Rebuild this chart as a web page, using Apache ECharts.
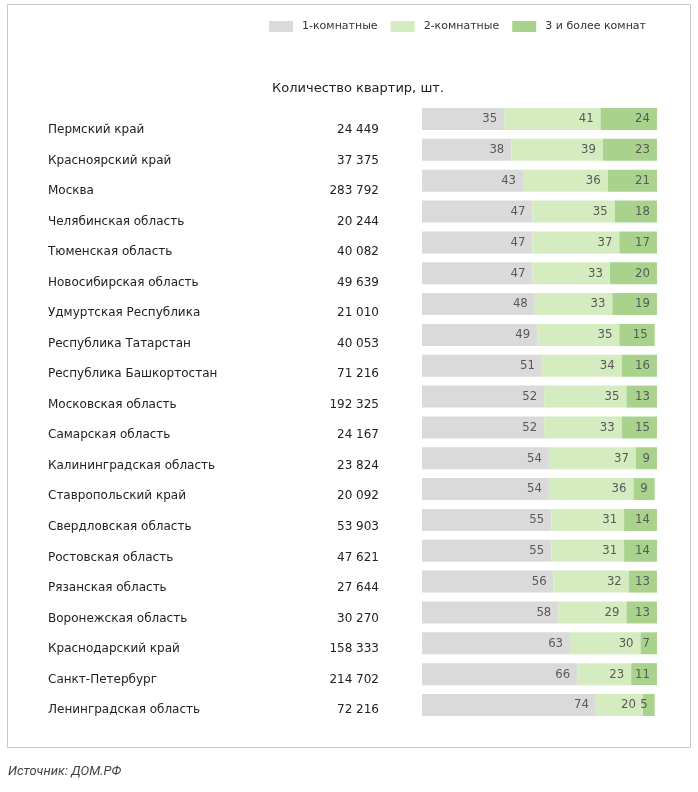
<!DOCTYPE html>
<html>
<head>
<meta charset="utf-8">
<script src="https://cdn.jsdelivr.net/npm/echarts@6/dist/echarts.min.js"></script>
<style>html,body{margin:0;padding:0;background:#fff}#c{width:698px;height:792px}</style>
</head>
<body>
<div id="c"></div>
<script>
const regions = ['Пермский край','Красноярский край','Москва','Челябинская область','Тюменская область','Новосибирская область','Удмуртская Республика','Республика Татарстан','Республика Башкортостан','Московская область','Самарская область','Калининградская область','Ставропольский край','Свердловская область','Ростовская область','Рязанская область','Воронежская область','Краснодарский край','Санкт-Петербург','Ленинградская область'];
const counts = ['24 449','37 375','283 792','20 244','40 082','49 639','21 010','40 053','71 216','192 325','24 167','23 824','20 092','53 903','47 621','27 644','30 270','158 333','214 702','72 216'];
const oneRoom = [35,38,43,47,47,47,48,49,51,52,52,54,54,55,55,56,58,63,66,74];
const twoRoom = [41,39,36,35,37,33,33,35,34,35,33,37,36,31,31,32,29,30,23,20];
const threePlus = [24,23,21,18,17,20,19,15,16,13,15,9,9,14,14,13,13,7,11,5];
const seriesNames = ['1-комнатные','2-комнатные','3 и более комнат'];
const colors = ['#dadada','#d5ecc0','#a9d38d'];

const chart = echarts.init(document.getElementById('c'));
const labelStyle = {show:true, position:'insideRight', distance:7, color:'#595959', fontSize:13, fontFamily:'DejaVu Sans Condensed'};
const mk = (name, data, i) => ({
  name, type:'bar', stack:'s', data, xAxisIndex:0, yAxisIndex:0,
  barWidth:22, itemStyle:{color:colors[i]}, label:labelStyle, emphasis:{disabled:true}
});
chart.setOption({
  animation:false,
  textStyle:{fontFamily:'DejaVu Sans'},
  legend:{
    top:16, left:264, itemWidth:24, itemHeight:11, itemGap:13, icon:'rect',
    textStyle:{fontSize:11, color:'#333', padding:[0,0,0,4], fontFamily:'DejaVu Sans'},
    data:seriesNames
  },
  title:{text:'Количество квартир, шт.', left:353, textAlign:'center', top:77,
    textStyle:{fontSize:13, fontWeight:'normal', color:'#222', fontFamily:'DejaVu Sans'}},
  grid:[
    {left:422, right:41, top:103.6, height:616.8},
    {left:422, right:41, top:114.7, height:610.6}
  ],
  xAxis:[
    {type:'value', min:0, max:100, show:false, gridIndex:0},
    {type:'value', min:0, max:100, show:false, gridIndex:1}
  ],
  yAxis:[
    {type:'category', data:regions, inverse:true, gridIndex:0, show:false},
    {type:'category', data:regions, inverse:true, gridIndex:1,
      axisLine:{show:false}, axisTick:{show:false}, splitLine:{show:false},
      axisLabel:{
        margin:374, align:'left', fontSize:12, color:'#222', fontFamily:'DejaVu Sans',
        formatter:(v, i) => '{n|' + v + '}{v|' + counts[i] + '}',
        rich:{n:{width:250, fontSize:12, color:'#222', fontFamily:'DejaVu Sans'},
              v:{width:81, align:'right', fontSize:12, color:'#222', fontFamily:'DejaVu Sans'}}
      }}
  ],
  series:[mk(seriesNames[0], oneRoom, 0), mk(seriesNames[1], twoRoom, 1), mk(seriesNames[2], threePlus, 2)],
  graphic:[
    {type:'rect', shape:{x:7.5, y:4.5, width:683, height:743}, style:{fill:'none', stroke:'#c8c8c8', lineWidth:1}, silent:true},
    {type:'text', left:8, top:765, style:{text:'Источник: ДОМ.РФ', font:'italic 13px Roboto', fill:'#444'}}
  ]
});
</script>
</body>
</html>
